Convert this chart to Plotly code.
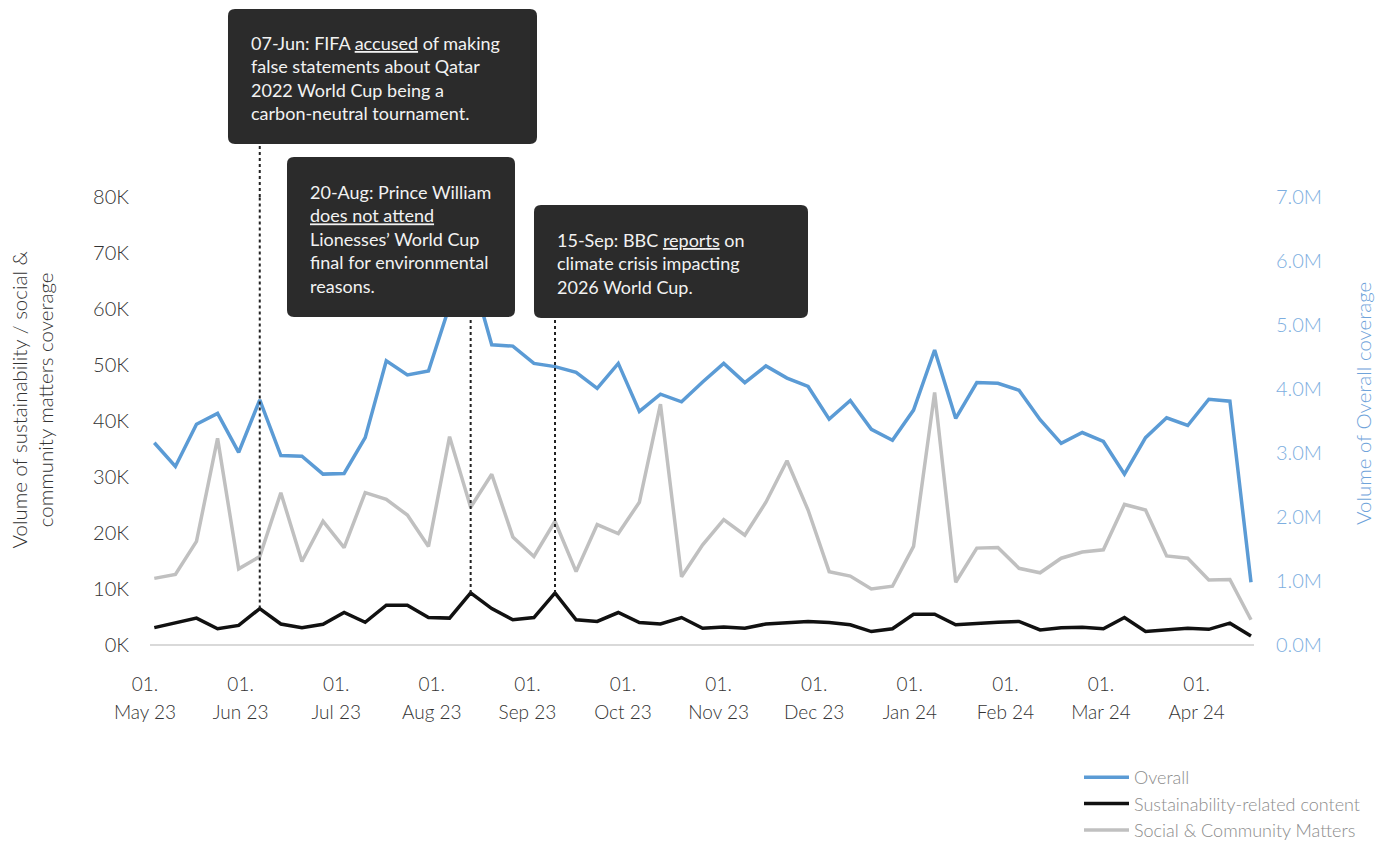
import plotly.graph_objects as go

# ---------------- data ----------------
weeks = [
    "2023-05-01", "2023-05-08", "2023-05-15", "2023-05-22", "2023-05-29",
    "2023-06-05", "2023-06-12", "2023-06-19", "2023-06-26",
    "2023-07-03", "2023-07-10", "2023-07-17", "2023-07-24", "2023-07-31",
    "2023-08-07", "2023-08-14", "2023-08-21", "2023-08-28",
    "2023-09-04", "2023-09-11", "2023-09-18", "2023-09-25",
    "2023-10-02", "2023-10-09", "2023-10-16", "2023-10-23", "2023-10-30",
    "2023-11-06", "2023-11-13", "2023-11-20", "2023-11-27",
    "2023-12-04", "2023-12-11", "2023-12-18", "2023-12-25",
    "2024-01-01", "2024-01-08", "2024-01-15", "2024-01-22", "2024-01-29",
    "2024-02-05", "2024-02-12", "2024-02-19", "2024-02-26",
    "2024-03-04", "2024-03-11", "2024-03-18", "2024-03-25",
    "2024-04-01", "2024-04-08", "2024-04-15", "2024-04-22", "2024-04-29",
]

overall_m = [3.16, 2.79, 3.45, 3.62, 3.01, 3.83, 2.96, 2.95, 2.67, 2.68,
             3.24, 4.44, 4.22, 4.28, 5.30, 5.86, 4.69, 4.67, 4.40, 4.35,
             4.26, 4.01, 4.40, 3.65, 3.92, 3.80, 4.11, 4.40, 4.10, 4.36,
             4.17, 4.04, 3.53, 3.82, 3.37, 3.20, 3.67, 4.61, 3.54, 4.10,
             4.09, 3.98, 3.52, 3.15, 3.32, 3.18, 2.67, 3.24, 3.55, 3.43,
             3.84, 3.81, 0.98]

sustain_k = [3.1, 3.9, 4.8, 2.9, 3.5, 6.5, 3.75, 3.1, 3.7, 5.8,
             4.05, 7.1, 7.1, 4.9, 4.8, 9.3, 6.5, 4.5, 4.9, 9.3,
             4.5, 4.2, 5.8, 4.0, 3.75, 4.9, 3.0, 3.2, 3.0, 3.75,
             4.0, 4.2, 4.0, 3.6, 2.4, 2.9, 5.5, 5.5, 3.6, 3.9,
             4.05, 4.2, 2.7, 3.1, 3.15, 2.9, 4.9, 2.4, 2.7, 3.0,
             2.8, 3.9, 1.6]

social_k = [11.9, 12.6, 18.5, 36.9, 13.6, 15.8, 27.2, 14.9, 22.1, 17.4,
            27.2, 26.0, 23.2, 17.6, 37.2, 24.6, 30.5, 19.3, 15.8, 22.1,
            13.1, 21.5, 19.9, 25.5, 43.0, 12.2, 17.9, 22.4, 19.6, 25.5,
            32.9, 24.1, 13.1, 12.3, 10.0, 10.5, 17.6, 45.1, 11.2, 17.3,
            17.4, 13.7, 12.9, 15.5, 16.6, 17.0, 25.1, 24.1, 15.9, 15.5,
            11.6, 11.7, 4.5]

month_day_labels = ["01."] * 12
month_labels = ["May 23", "Jun 23", "Jul 23", "Aug 23", "Sep 23", "Oct 23",
                "Nov 23", "Dec 23", "Jan 24", "Feb 24", "Mar 24", "Apr 24"]

left_tick_vals = [0, 10, 20, 30, 40, 50, 60, 70, 80]
left_tick_text = ["0K", "10K", "20K", "30K", "40K", "50K", "60K", "70K", "80K"]
right_tick_vals = [0, 1, 2, 3, 4, 5, 6, 7]
right_tick_text = ["0.0M", "1.0M", "2.0M", "3.0M", "4.0M", "5.0M", "6.0M", "7.0M"]

event_weeks = ["2023-06-05", "2023-08-14", "2023-09-11"]
event_texts = [
    "07-Jun: FIFA <u>accused</u> of making<br>false statements about Qatar<br>"
    "2022 World Cup being a<br>carbon-neutral tournament.",
    "20-Aug: Prince William<br><u>does not attend</u><br>Lionesses\u2019 World Cup<br>"
    "final for environmental<br>reasons.",
    "15-Sep: BBC <u>reports</u> on<br>climate crisis impacting<br>2026 World Cup.",
]

# ---------------- layout geometry (reference pixels) ----------------
OFF = 8                      # page body margin of the html page
W, H = 1389 - OFF, 841 - OFF
PL, PR, PT, PB = 140, 1254, 197, 645   # plotting area (slightly wider than baseline)
BASE_L = 150                           # start of the visible baseline
PW, PH = PR - PL, PB - PT


def pxx(p):
    return (p - PL) / PW


def pxy(p):
    return (PB - p) / PH


event_boxes = [(228, 9, 537, 144), (287, 157, 515, 317), (534, 205, 808, 318)]

FONT = "Lato"
BLUE = "#5B9BD5"
GRAY = "#C0C0C0"
BLACK = "#111111"

fig = go.Figure()
fig.add_trace(go.Scatter(x=weeks, y=social_k, name="Social & Community Matters",
                         mode="lines", line=dict(color=GRAY, width=3.5),
                         legendrank=3))
fig.add_trace(go.Scatter(x=weeks, y=sustain_k, name="Sustainability-related content",
                         mode="lines", line=dict(color=BLACK, width=3.5),
                         legendrank=2))
fig.add_trace(go.Scatter(x=weeks, y=overall_m, name="Overall", yaxis="y2",
                         mode="lines", line=dict(color=BLUE, width=3.5),
                         legendrank=1))
# empty helper traces so that the month-label axes get drawn
for ax in ("x2", "x3"):
    fig.add_trace(go.Scatter(x=[], y=[], xaxis=ax, yaxis="y", showlegend=False,
                             hoverinfo="skip", mode="lines"))


def rounded_rect(x0, y0, x1, y1, r=7):
    pts = [
        ("M", x0 + r, y0), ("L", x1 - r, y0), ("Q", x1, y0, x1, y0 + r),
        ("L", x1, y1 - r), ("Q", x1, y1, x1 - r, y1), ("L", x0 + r, y1),
        ("Q", x0, y1, x0, y1 - r), ("L", x0, y0 + r), ("Q", x0, y0, x0 + r, y0),
    ]
    parts = []
    for p in pts:
        coords = p[1:]
        cs = [f"{pxx(coords[i]):.5f},{pxy(coords[i + 1]):.5f}"
              for i in range(0, len(coords), 2)]
        parts.append(p[0] + " ".join(cs))
    return " ".join(parts) + " Z"


shapes = [dict(type="line", xref="paper", yref="paper", x0=pxx(BASE_L), x1=1,
               y0=0, y1=0, line=dict(color="#D9D9D9", width=2), layer="below")]
annotations = []
dot = dict(color="#222222", width=2, dash="dot")
for wk, (bx0, by0, bx1, by1) in zip(event_weeks, event_boxes):
    val = sustain_k[weeks.index(wk)]
    top_paper = pxy(by1)
    if top_paper <= 1:
        shapes.append(dict(type="line", xref="x", yref="y", x0=wk, x1=wk,
                           y0=val, y1=top_paper * left_tick_vals[-1], line=dot))
    else:
        shapes.append(dict(type="line", xref="x", yref="y", x0=wk, x1=wk,
                           y0=val, y1=left_tick_vals[-1], line=dot))
        shapes.append(dict(type="line", xref="x", yref="paper", x0=wk, x1=wk,
                           y0=1, y1=top_paper, line=dot))
for (bx0, by0, bx1, by1) in event_boxes:
    shapes.append(dict(type="path", xref="paper", yref="paper",
                       path=rounded_rect(bx0, by0, bx1, by1),
                       fillcolor="#2B2B2B", line=dict(width=0), layer="above"))
for txt, (bx0, by0, bx1, by1) in zip(event_texts, event_boxes):
    annotations.append(dict(xref="paper", yref="paper", x=pxx(bx0 + 21),
                            y=pxy((by0 + by1) / 2 + 2), xanchor="left",
                            yanchor="middle", align="left", showarrow=False,
                            text=txt, font=dict(family=FONT, size=18,
                                                color="#F2F2F2")))

annotations.append(dict(xref="paper", yref="paper", x=pxx(31.5), y=pxy(400),
                        textangle=-90, showarrow=False, align="center",
                        xanchor="center", yanchor="middle",
                        text="Volume of sustainability / social &<br>community matters coverage",
                        font=dict(family=FONT, size=20.5, weight=300, color="#333333")))
annotations.append(dict(xref="paper", yref="paper", x=pxx(1363), y=pxy(404),
                        textangle=-90, showarrow=False,
                        xanchor="center", yanchor="middle",
                        text="Volume of Overall coverage",
                        font=dict(family=FONT, size=20.5, weight=300, color="#6FA3DA")))

tick_font = dict(family=FONT, size=19, weight=300, color="#333333")
ytick_font = dict(family=FONT, size=20, weight=300, color="#333333")
month_range = [(PL - 145) / 95.6, (PR - 145) / 95.6]
date_start = "2023-04-26 06:06"   # plot left edge, (154.3 - 140) px before 1 May
date_end = "2024-04-30 00:00"

fig.update_layout(
    width=W, height=H,
    margin=dict(l=PL - OFF, r=(W + OFF) - PR, t=PT - OFF, b=(H + OFF) - PB,
                pad=0, autoexpand=False),
    paper_bgcolor="white", plot_bgcolor="white",
    font=dict(family=FONT, size=18, color="#333333"),
    xaxis=dict(type="date", range=[date_start, date_end],
               showticklabels=False, ticks="", showgrid=False, zeroline=False,
               showline=False),
    xaxis2=dict(overlaying="x", anchor="y", side="bottom", type="linear",
                range=month_range, tickmode="array",
                tickvals=list(range(len(month_labels))), ticktext=month_day_labels,
                showgrid=False, zeroline=False, showline=False, ticks="",
                ticklabelstandoff=26, tickfont=tick_font),
    xaxis3=dict(overlaying="x", anchor="y", side="bottom", type="linear",
                range=month_range, tickmode="array",
                tickvals=list(range(len(month_labels))), ticktext=month_labels,
                showgrid=False, zeroline=False, showline=False, ticks="",
                ticklabelstandoff=54, tickfont=tick_font),
    yaxis=dict(range=[0, 80], tickmode="array", tickvals=left_tick_vals,
               ticktext=left_tick_text, showgrid=False, zeroline=False,
               showline=False, ticks="", ticklabelstandoff=10, tickfont=ytick_font),
    yaxis2=dict(overlaying="y", side="right", range=[0, 7], tickmode="array",
                tickvals=right_tick_vals, ticktext=right_tick_text,
                showgrid=False, zeroline=False, showline=False, ticks="",
                ticklabelstandoff=21,
                tickfont=dict(family=FONT, size=20, weight=300, color="#7DAEE0")),
    legend=dict(x=pxx(1079), y=pxy(759), xanchor="left", yanchor="top",
                font=dict(family=FONT, size=18, weight=300, color="#8C8C8C"),
                itemwidth=45, bgcolor="rgba(0,0,0,0)"),
    shapes=shapes,
    annotations=annotations,
    showlegend=True,
)

fig.write_html("out.html")
